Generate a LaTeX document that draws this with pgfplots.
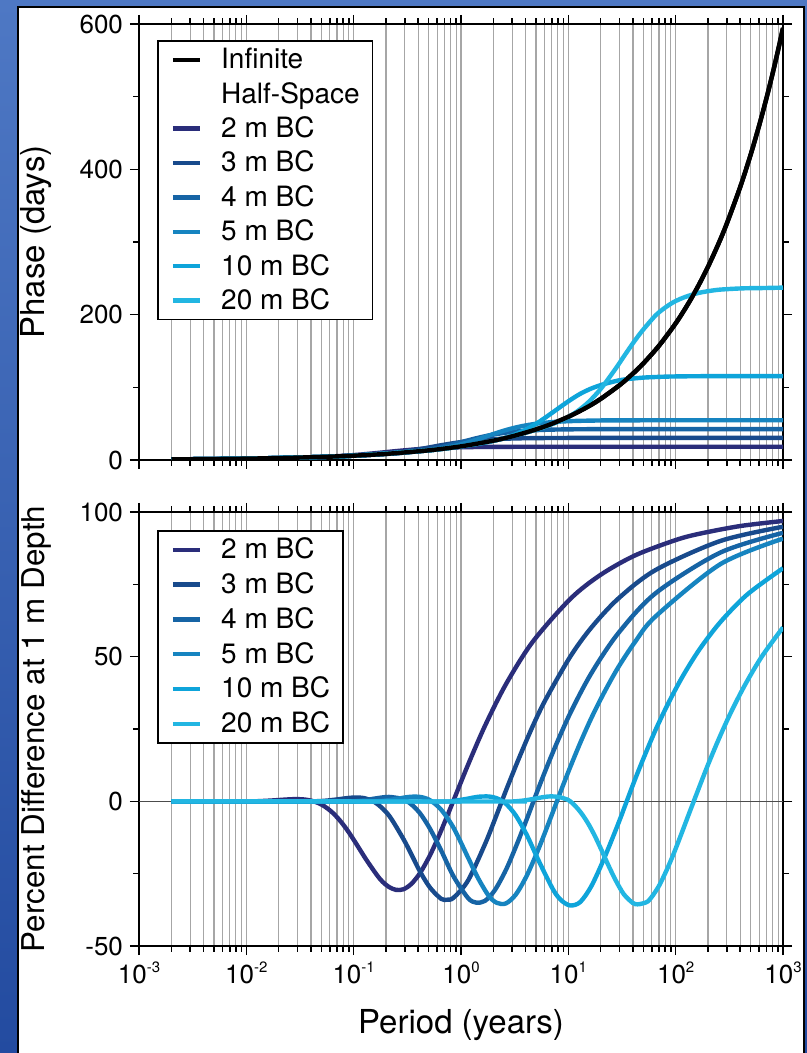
\documentclass[border=0pt]{standalone}
\usepackage{pgfplots}
\pgfplotsset{compat=1.18}
\usepackage{pgfplotstable}
\usepackage{fontspec}
\setmainfont{TeX Gyre Heros}
\definecolor{c2}{RGB}{42,45,122}
\definecolor{c3}{RGB}{24,74,140}
\definecolor{c4}{RGB}{22,100,165}
\definecolor{c5}{RGB}{22,132,192}
\definecolor{c10}{RGB}{14,164,218}
\definecolor{c20}{RGB}{34,182,226}
\definecolor{bgtop}{RGB}{78,120,196}
\definecolor{bgmid}{RGB}{105,185,235}
\definecolor{bgbot}{RGB}{35,75,160}
\newcommand{\tl}[1]{10\raisebox{5.6pt}{\fontsize{7.5}{8}\selectfont #1}}

\pgfplotstableread{
P phase
0.002 0.84
0.005 1.33
0.01 1.88
0.02 2.66
0.05 4.20
0.1 5.94
0.2 8.41
0.5 13.29
1 18.80
2 26.59
3 32.56
5 42.04
7 49.74
10 59.45
15 72.81
20 84.07
30 102.97
40 118.90
50 132.93
70 157.29
100 187.99
130 214.34
160 237.79
200 265.86
250 297.24
300 325.61
400 375.98
500 420.36
600 460.48
700 497.37
800 531.71
900 563.97
1000 594.48
}\infdata

\pgfplotsset{
  legend image code/.code={\draw[#1] (0pt,0pt) -- (13.5pt,0pt);},
  every axis plot/.append style={line width=2.2pt, smooth},
}

\begin{document}
\begin{tikzpicture}
\useasboundingbox (0,0) rectangle (403.5pt,526.5pt);
\shade[top color=bgtop, middle color=bgmid, bottom color=bgbot] (0,0) rectangle (403.5pt,526.5pt);
\fill[white, draw=black, line width=1pt] (9pt,-5pt) rectangle (401.75pt,523pt);

% ---------------- top axis ----------------
\begin{axis}[
  scale only axis, width=322pt, height=218pt,
  at={(69.5pt,296.5pt)}, anchor=south west,
  xmode=log, xmin=0.001, xmax=1000,
  xtick={0.001,0.01,0.1,1,10,100,1000},
  minor xtick={0.002,0.003,0.004,0.005,0.006,0.007,0.008,0.009,
               0.02,0.03,0.04,0.05,0.06,0.07,0.08,0.09,
               0.2,0.3,0.4,0.5,0.6,0.7,0.8,0.9,
               2,3,4,5,6,7,8,9,
               20,30,40,50,60,70,80,90,
               200,300,400,500,600,700,800,900},
  xticklabels={},
  ymin=0, ymax=600,
  ytick={0,200,400,600}, yticklabels={0,200,400,600},
  minor ytick={100,300,500},
  tick align=outside,
  major tick length=4.5pt, minor tick length=2.8pt,
  xmajorgrids=true, xminorgrids=true,
  major grid style={black!35, line width=0.55pt},
  minor grid style={black!35, line width=0.55pt},
  axis line style={black, line width=1pt},
  tick style={black, line width=0.8pt},
  tick label style={font=\fontsize{13}{15}\selectfont},
  label style={font=\fontsize{16.5}{19}\selectfont},
  ylabel={Phase (days)},
  ylabel style={at={(axis description cs:-0.160,0.5)}, anchor=center},
  legend cell align=left,
  legend style={font=\fontsize{14}{16}\selectfont, draw=black, line width=0.8pt,
    at={(axis description cs:0,1)}, anchor=north west, xshift=9pt, yshift=-8pt,
    inner xsep=6.5pt, inner ysep=3pt, row sep=4.2pt, column sep=9.5pt,
    nodes={inner sep=0pt, text height=11pt, text depth=2pt}},
]
\addplot[black] table {\infdata};
\addlegendentry{Infinite}
\addlegendimage{empty legend}
\addlegendentry{Half-Space}
\addplot[c2] coordinates {(0.002,0.84) (0.01,1.88) (0.03,3.23) (0.05,4.24) (0.0726,5.40) (0.1046,6.96) (0.1634,9.52) (0.2476,12.21) (0.4184,15.15) (0.6537,16.74) (0.8538,17.30) (1.162,17.71) (1.673,17.97) (2.615,18.12) (4.648,18.20) (10.46,18.24) (100,18.24) (1000,18.24)};
\addlegendentry{2 m BC}
\addplot[c3] coordinates {(0.002,0.84) (0.01,1.88) (0.05,4.20) (0.1046,6.00) (0.1634,7.65) (0.2134,9.11) (0.2905,11.45) (0.4184,15.14) (0.5165,17.55) (0.6537,20.32) (0.8538,23.15) (1.162,25.81) (1.673,27.92) (2.066,28.72) (2.615,29.31) (3.415,29.77) (4.648,30.03) (6.189,30.21) (10.46,30.34) (30,30.4) (1000,30.4)};
\addlegendentry{3 m BC}
\addplot[c4] coordinates {(0.002,0.84) (0.01,1.88) (0.05,4.20) (0.1046,6.07) (0.2134,8.55) (0.2905,10.06) (0.4184,12.68) (0.5165,14.81) (0.6537,17.78) (0.8538,21.89) (1.162,27.03) (1.383,29.85) (1.673,32.69) (2.066,35.32) (2.615,37.64) (3.228,39.15) (4.086,40.39) (5.336,41.23) (7.263,41.85) (10.46,42.19) (16.34,42.40) (40,42.53) (1000,42.56)};
\addlegendentry{4 m BC}
\addplot[c5] coordinates {(0.002,0.84) (0.01,1.88) (0.05,4.20) (0.1046,6.08) (0.2553,9.41) (0.5165,13.46) (0.6537,15.64) (0.8538,18.97) (1.162,24.19) (1.435,28.47) (1.816,33.62) (2.161,37.33) (2.615,41.13) (3.228,44.69) (4.086,47.80) (5.336,50.38) (7.263,52.28) (8.644,52.95) (10.46,53.50) (12.91,53.90) (16.34,54.18) (21.35,54.46) (29.05,54.50) (41.84,54.60) (100,54.70) (1000,54.72)};
\addlegendentry{5 m BC}
\addplot[c10] coordinates {(0.002,0.84) (0.01,1.88) (0.05,4.20) (0.1,5.94) (0.5,13.29) (1.162,20.07) (1.816,24.90) (2.615,30.65) (3.228,35.40) (4.086,42.37) (5.336,52.46) (7.263,66.21) (8.644,74.23) (10.46,82.69) (12.91,91.06) (16.34,98.33) (21.35,104.3) (29.05,109.3) (34.58,111.1) (41.84,112.4) (51.65,113.5) (65.37,114.2) (85.38,114.8) (116.2,115.1) (167.3,115.3) (400,115.5) (1000,115.5)};
\addlegendentry{10 m BC}
\addplot[c20] coordinates {(0.002,0.84) (0.01,1.88) (0.05,4.20) (0.1,5.94) (0.5,13.29) (1,18.80) (2,26.59) (3.44,34.84) (5.07,41.89) (5.88,44.92) (8.22,53.09) (9.94,58.97) (12.27,67.56) (15.54,80.11) (20.29,98.82) (27.62,125.8) (32.87,142.4) (39.77,160.2) (44.07,169.2) (49.10,178.2) (62.14,195.9) (70.70,203.8) (81.16,210.5) (94.13,216.7) (110.5,221.7) (131.5,225.9) (159.1,229.5) (196.4,232.1) (248.6,234.2) (324.7,235.4) (441.9,236.3) (636.3,236.6) (1000,237.2)};
\addlegendentry{20 m BC}
\addplot[black, forget plot] table {\infdata};
\end{axis}

% ---------------- bottom axis ----------------
\begin{axis}[
  scale only axis, width=322pt, height=217pt,
  at={(69.5pt,53.5pt)}, anchor=south west,
  xmode=log, xmin=0.001, xmax=1000,
  xtick={0.001,0.01,0.1,1,10,100,1000},
  minor xtick={0.002,0.003,0.004,0.005,0.006,0.007,0.008,0.009,
               0.02,0.03,0.04,0.05,0.06,0.07,0.08,0.09,
               0.2,0.3,0.4,0.5,0.6,0.7,0.8,0.9,
               2,3,4,5,6,7,8,9,
               20,30,40,50,60,70,80,90,
               200,300,400,500,600,700,800,900},
  xticklabels={{\tl{-3}},{\tl{-2}},{\tl{-1}},{\tl{0}},{\tl{1}},{\tl{2}},{\tl{3}}},
  ymin=-50, ymax=100,
  ytick={-50,0,50,100}, yticklabels={-50,0,50,100},
  minor ytick={-25,25,75},
  extra y ticks={0}, extra y tick labels={},
  extra y tick style={ymajorgrids=true, major grid style={black!70, line width=0.6pt}},
  tick align=outside,
  major tick length=4.5pt, minor tick length=2.8pt,
  xmajorgrids=true, xminorgrids=true,
  major grid style={black!35, line width=0.55pt},
  minor grid style={black!35, line width=0.55pt},
  axis line style={black, line width=1pt},
  tick style={black, line width=0.8pt},
  tick label style={font=\fontsize{13}{15}\selectfont},
  label style={font=\fontsize{16.5}{19}\selectfont},
  ylabel={Percent Difference at 1 m Depth},
  ylabel style={at={(axis description cs:-0.160,0.5)}, anchor=center, font=\fontsize{15.7}{18}\selectfont},
  xlabel={Period (years)},
  xlabel style={at={(axis description cs:0.5,-0.182)}, anchor=center},
  legend cell align=left,
  legend style={font=\fontsize{14}{16}\selectfont, draw=black, line width=0.8pt,
    at={(axis description cs:0,1)}, anchor=north west, xshift=9pt, yshift=-9pt,
    inner xsep=6.5pt, inner ysep=3pt, row sep=4.4pt, column sep=9.5pt,
    nodes={inner sep=0pt, text height=11pt, text depth=2pt}},
]
\addplot[c2] coordinates {(0.002,0) (0.00654,0) (0.01162,0.02) (0.01334,0.08) (0.01547,0.19) (0.01816,0.34) (0.02161,0.54) (0.02615,0.72) (0.02897,0.76) (0.03228,0.72) (0.03619,0.55) (0.04086,0.17) (0.04648,-0.54) (0.05336,-1.71) (0.06189,-3.52) (0.07263,-6.15) (0.08644,-9.75) (0.1046,-14.4) (0.1291,-19.8) (0.1634,-25.3) (0.1859,-27.8) (0.2134,-29.6) (0.2476,-30.6) (0.2905,-30.4) (0.3457,-28.5) (0.4184,-24.6) (0.5165,-18.5) (0.6537,-10.1) (0.8538,0.38) (1.162,12.6) (1.673,26.1) (2.615,40.4) (4.648,55.1) (10.46,70.0) (20,78.3) (41.84,85.0) (100,90.3) (167.3,92.5) (400,95.15) (1000,96.9)};
\addlegendentry{2 m BC}
\addplot[c3] coordinates {(0.002,0) (0.02615,-0.02) (0.04086,0) (0.05336,0.18) (0.07263,0.73) (0.08644,1.10) (0.1046,1.33) (0.1291,0.99) (0.1634,-0.71) (0.2134,-4.9) (0.2905,-13.0) (0.3457,-18.4) (0.4184,-24.5) (0.5165,-29.9) (0.6537,-33.7) (0.7438,-34.0) (0.8538,-33.3) (1.162,-27.4) (1.673,-14.8) (2.066,-6.3) (2.615,3.6) (3.415,14.3) (4.648,25.9) (6.189,35.4) (10.46,50.1) (16.34,60.0) (29.05,70.0) (65.37,80.0) (261.5,90.0) (1000,94.9)};
\addlegendentry{3 m BC}
\addplot[c4] coordinates {(0.002,0) (0.0726,-0.05) (0.1046,0.10) (0.1291,0.45) (0.1634,1.05) (0.2134,1.52) (0.2905,0.70) (0.3457,-1.08) (0.4184,-4.3) (0.5165,-9.6) (0.6537,-17.0) (0.8538,-26.0) (1.162,-33.4) (1.383,-35.0) (1.673,-34.4) (2.066,-30.7) (2.615,-23.8) (3.228,-15.9) (4.086,-6.3) (5.336,5.05) (7.263,17.4) (10.46,30.6) (16.34,44.2) (29.05,58.0) (65.37,72.0) (261.5,86.0) (1000,92.8)};
\addlegendentry{4 m BC}
\addplot[c5] coordinates {(0.002,0) (0.1046,-0.03) (0.1634,0.02) (0.2018,0.30) (0.2553,0.89) (0.3335,1.55) (0.4184,1.5) (0.5165,0.35) (0.6537,-2.9) (0.8538,-9.2) (1.162,-19.4) (1.435,-26.4) (1.816,-32.7) (2.161,-35.1) (2.615,-35.3) (3.228,-32.3) (4.086,-25.8) (5.336,-16.0) (7.263,-3.2) (8.644,4.2) (10.46,12.0) (12.91,20.2) (16.34,28.7) (21.35,37.3) (29.05,46.2) (41.84,55.1) (65.37,64.0) (261.5,82.0) (1000,90.8)};
\addlegendentry{5 m BC}
\addplot[c10] coordinates {(0.002,0) (0.6537,-0.07) (0.8538,0.16) (1.162,0.94) (1.435,1.56) (1.816,1.67) (2.161,1.04) (2.615,-0.82) (3.228,-4.8) (4.086,-11.5) (5.336,-20.8) (7.263,-30.7) (8.644,-34.3) (10.46,-36.0) (12.91,-34.8) (16.34,-29.4) (21.35,-20.1) (29.05,-7.9) (34.58,-0.5) (41.84,7.6) (51.65,16.0) (65.37,24.9) (85.38,33.9) (116.2,43.2) (167.3,52.6) (261.5,62.0) (464.8,71.5) (1000,80.57)};
\addlegendentry{10 m BC}
\addplot[c20] coordinates {(0.002,0) (2.49,-0.07) (3.07,-0.02) (3.44,0.10) (3.88,0.31) (4.42,0.63) (5.07,1.04) (5.88,1.47) (6.90,1.72) (8.22,1.46) (9.94,0.5) (11.02,-0.8) (12.27,-2.6) (13.76,-5.0) (15.54,-8.1) (17.68,-12.0) (20.29,-16.7) (23.53,-22.0) (27.62,-27.3) (32.87,-32.1) (39.77,-35.1) (44.07,-35.6) (49.10,-35.3) (55.04,-34.6) (62.14,-32.2) (70.70,-28.9) (81.16,-24.3) (94.13,-18.8) (110.5,-12.2) (131.5,-4.8) (159.1,3.2) (196.4,11.9) (248.6,21.0) (324.7,30.5) (441.9,40.2) (636.3,50.1) (1000,60.1)};
\addlegendentry{20 m BC}
\end{axis}
\end{tikzpicture}
\end{document}
